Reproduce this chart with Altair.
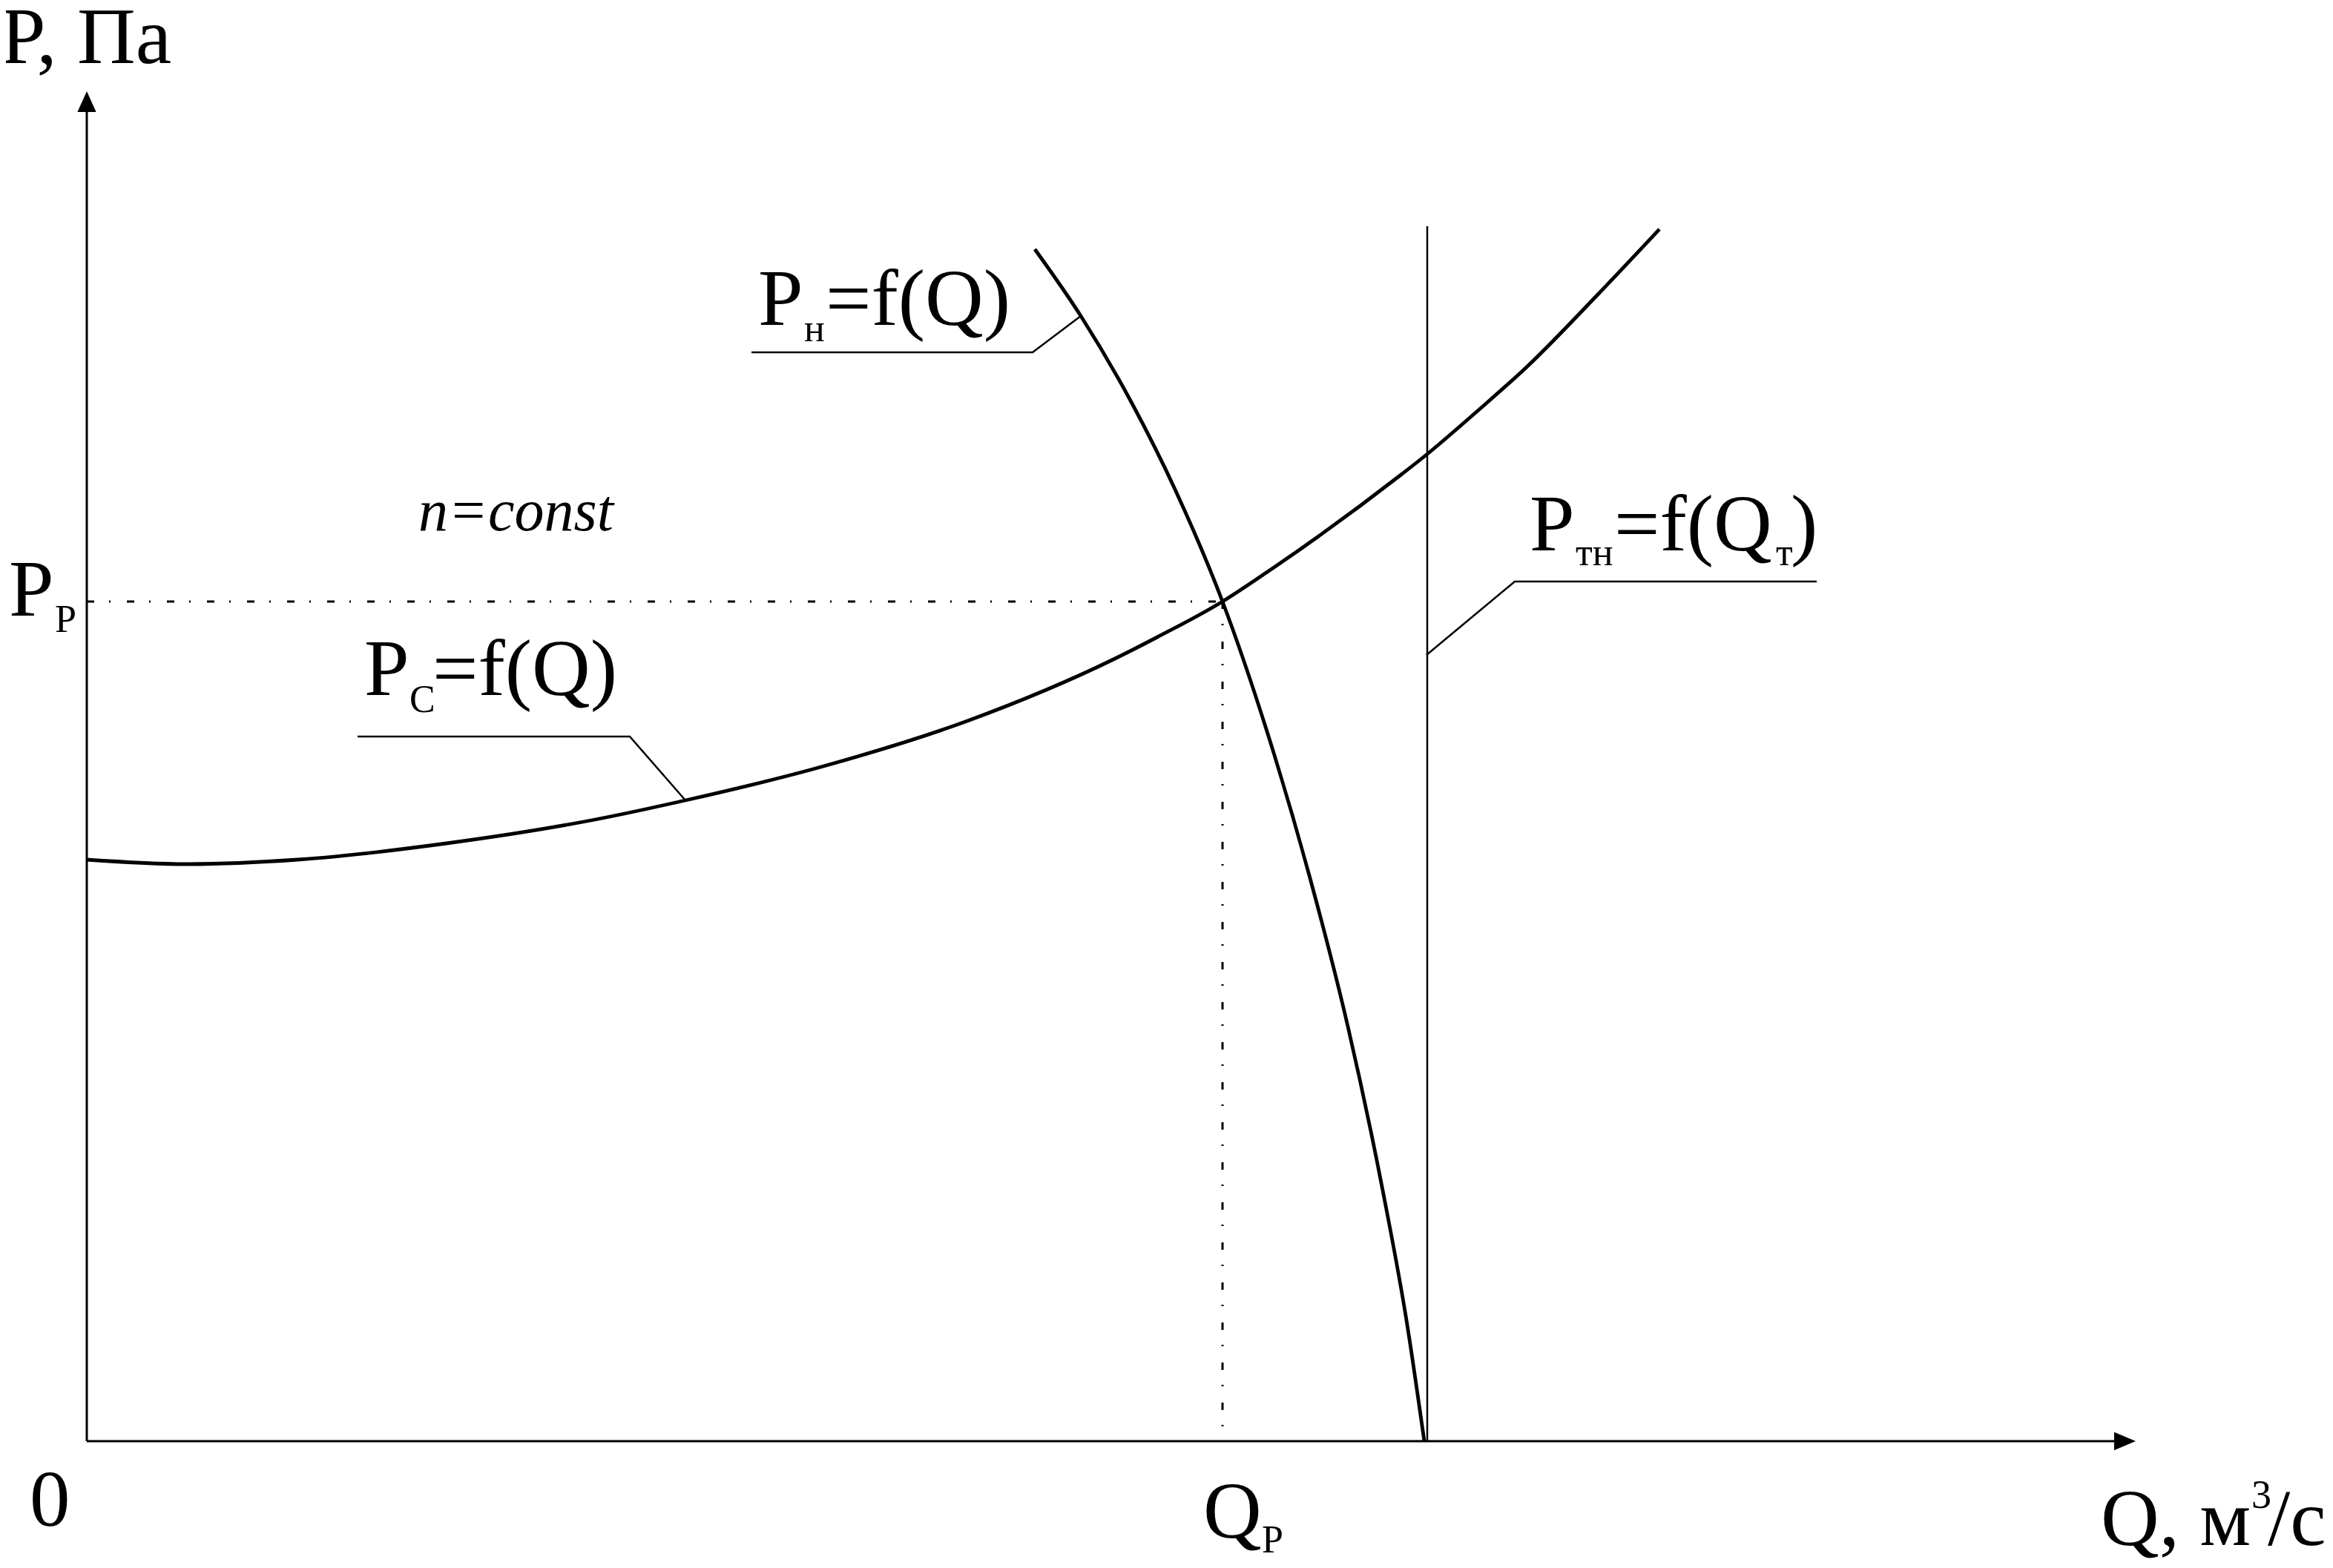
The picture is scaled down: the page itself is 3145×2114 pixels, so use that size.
import altair as alt
import pandas as pd

# Schematic units (origin of the axes at 0,0)
# Pump characteristic P_н = f(Q)
pump_q = [12.78, 13.40, 14.08, 14.68, 15.31, 15.90, 16.49, 17.00, 17.47, 17.79, 18.03]
pump_p = [16.07, 15.17, 14.01, 12.81, 11.32, 9.60, 7.59, 5.59, 3.38, 1.63, 0.00]

# Network characteristic P_с = f(Q)
sys_q = [0.00, 1.34, 2.84, 4.85, 6.85, 8.07, 9.86, 11.87, 13.88, 14.43, 15.31,
         15.93, 17.73, 18.06, 18.76, 19.43, 20.36, 21.20]
sys_p = [7.84, 7.78, 7.84, 8.06, 8.38, 8.64, 9.08, 9.71, 10.56, 10.84, 11.32,
         11.73, 13.04, 13.30, 13.90, 14.50, 15.45, 16.34]

# Operating point and theoretical flow line
q_work = 15.31
p_work = 11.32
q_theor = 18.07
p_theor_top = 16.38

# Axes extents
y_axis_top = 17.98
y_arrow_tip = 18.20
x_axis_end = 27.38
x_arrow_tip = 27.62

# Leader lines (label callouts)
leader_names = ["c", "c", "c", "h", "h", "h", "t", "t", "t"]
leader_q = [3.65, 7.32, 8.07, 8.96, 12.75, 13.40, 18.06, 19.25, 23.32]
leader_p = [9.50, 9.50, 8.64, 14.68, 14.68, 15.17, 10.60, 11.59, 11.59]

# Text labels
big_text = ["P, Па", "P", "0", "Q", "Q, м", "/с", "P", "=f(Q)", "P", "=f(Q)", "P", "=f(Q", ")"]
big_q = [-1.16, -1.05, -0.77, 15.05, 27.15, 29.40, 3.74, 4.66, 9.05, 9.96, 19.45, 20.59, 22.97]
big_p = [18.58, 11.13, -1.14, -1.30, -1.40, -1.40, 10.06, 10.06, 15.05, 15.05, 12.01, 12.01, 12.01]

sub_text = ["Р", "Р", "С", "н", "тн", "т"]
sub_q = [-0.43, 15.84, 4.35, 9.67, 20.07, 22.77]
sub_p = [10.91, -1.50, 9.83, 14.83, 11.81, 11.81]

sup_text = ["3"]
sup_q = [29.18]
sup_p = [-0.90]

it_text = ["n=const"]
it_q = [4.47]
it_p = [12.28]

W, H = 3129, 2098
QMIN = -1.09
QMAX = QMIN + W / 100
PMAX = 19.35
PMIN = PMAX - H / 100

xs = alt.Scale(domain=[QMIN, QMAX], nice=False, zero=False)
ys = alt.Scale(domain=[PMIN, PMAX], nice=False, zero=False)


def X(field="q"):
    return alt.X(f"{field}:Q", scale=xs, axis=None)


def Y(field="p"):
    return alt.Y(f"{field}:Q", scale=ys, axis=None)


pump_df = pd.DataFrame({"q": pump_q, "p": pump_p, "o": range(len(pump_q))})
sys_df = pd.DataFrame({"q": sys_q, "p": sys_p, "o": range(len(sys_q))})

axes_df = pd.DataFrame({
    "q": [0.0, 0.0], "p": [0.0, 0.0],
    "q2": [0.0, x_axis_end], "p2": [y_axis_top, 0.0],
})
arrow_up_df = pd.DataFrame({"q": [0.0], "p": [y_arrow_tip]})
arrow_right_df = pd.DataFrame({"q": [x_arrow_tip], "p": [0.0]})

dash_df = pd.DataFrame({
    "q": [0.0, q_work], "p": [p_work, p_work],
    "q2": [q_work, q_work], "p2": [p_work, 0.0],
})
theor_df = pd.DataFrame({"q": [q_theor], "p": [0.0], "p2": [p_theor_top]})

leader_df = pd.DataFrame({"name": leader_names, "q": leader_q, "p": leader_p,
                          "o": range(len(leader_q))})

big_df = pd.DataFrame({"t": big_text, "q": big_q, "p": big_p})
sub_df = pd.DataFrame({"t": sub_text, "q": sub_q, "p": sub_p})
sup_df = pd.DataFrame({"t": sup_text, "q": sup_q, "p": sup_p})
it_df = pd.DataFrame({"t": it_text, "q": it_q, "p": it_p})

FONT = "Liberation Serif"

pump = alt.Chart(pump_df).mark_line(color="black", strokeWidth=4.8, interpolate="monotone").encode(
    x=X(), y=Y(), order="o:Q")
system = alt.Chart(sys_df).mark_line(color="black", strokeWidth=4.8, interpolate="monotone").encode(
    x=X(), y=Y(), order="o:Q")

axes = alt.Chart(axes_df).mark_rule(color="black", strokeWidth=3).encode(
    x=X(), y=Y(), x2="q2:Q", y2="p2:Q")
arrow_up = alt.Chart(arrow_up_df).mark_point(
    shape="M0,0L0.9,2L-0.9,2Z", filled=True, color="black", opacity=1, size=784, strokeWidth=0
).encode(x=X(), y=Y())
arrow_right = alt.Chart(arrow_right_df).mark_point(
    shape="M0,0L-2,-0.85L-2,0.85Z", filled=True, color="black", opacity=1, size=841, strokeWidth=0
).encode(x=X(), y=Y())

dash = alt.Chart(dash_df).mark_rule(color="black", strokeWidth=3, strokeDash=[10, 20, 2, 22]).encode(
    x=X(), y=Y(), x2="q2:Q", y2="p2:Q")
theor = alt.Chart(theor_df).mark_rule(color="black", strokeWidth=2.5).encode(
    x=X(), y=Y(), y2="p2:Q")

leaders = alt.Chart(leader_df).mark_line(color="black", strokeWidth=2.5).encode(
    x=X(), y=Y(), detail="name:N", order="o:Q")

big = alt.Chart(big_df).mark_text(font=FONT, fontSize=109, align="left", baseline="alphabetic",
                                  color="black").encode(x=X(), y=Y(), text="t:N")
sub = alt.Chart(sub_df).mark_text(font=FONT, fontSize=52, align="left", baseline="alphabetic",
                                  color="black").encode(x=X(), y=Y(), text="t:N")
sup = alt.Chart(sup_df).mark_text(font=FONT, fontSize=54, align="left", baseline="alphabetic",
                                  color="black").encode(x=X(), y=Y(), text="t:N")
ital = alt.Chart(it_df).mark_text(font=FONT, fontSize=80, fontStyle="italic", align="left",
                                  baseline="alphabetic", color="black").encode(x=X(), y=Y(), text="t:N")

chart = alt.layer(
    axes, arrow_up, arrow_right, dash, theor, leaders, system, pump, big, sub, sup, ital
).properties(
    width=W, height=H, autosize=alt.AutoSizeParams(type="none"), padding=0,
    background="white"
).configure_view(stroke=None)

chart.save("out.html", embed_options={"renderer": "svg", "actions": False})
